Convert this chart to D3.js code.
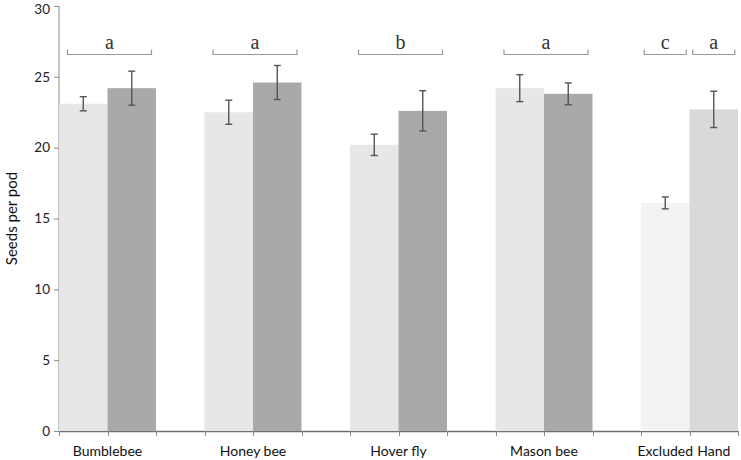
<!DOCTYPE html>
<html>
<head>
<meta charset="utf-8">
<script src="https://cdn.jsdelivr.net/npm/d3@7"></script>
<style>
  html, body { margin: 0; padding: 0; background: #fff; }
  svg { display: block; }
</style>
</head>
<body>
<svg id="chart" width="741" height="460"></svg>
<script>
// ---- data ----
const groups = ["Bumblebee", "Honey bee", "Hover fly", "Mason bee"];
const lightMeans = [23.1, 22.5, 20.2, 24.2];
const lightErr = [0.5, 0.85, 0.75, 0.95];
const darkMeans = [24.2, 24.6, 22.6, 23.8];
const darkErr = [1.2, 1.2, 1.42, 0.77];
const controls = ["Excluded", "Hand"];
const controlMeans = [16.1, 22.7];
const controlErr = [0.42, 1.28];
const groupLetters = ["a", "a", "b", "a"];
const controlLetters = ["c", "a"];
const yTicks = [0, 5, 10, 15, 20, 25, 30];
const yLabel = "Seeds per pod";

// ---- layout ----
const svg = d3.select("#chart");
const mLeft = 59, mRight = 738, mTop = 6, mBottom = 431;
const nSlots = 14;
const x = d3.scaleBand().domain(d3.range(nSlots)).range([mLeft, mRight]).paddingInner(0).paddingOuter(0);
const y = d3.scaleLinear().domain([0, 30]).range([mBottom, mTop]);
const bw = x.bandwidth();

// build bar records
const bars = [];
groups.forEach((g, i) => {
  bars.push({slot: 3 * i, v: lightMeans[i], e: lightErr[i], fill: "#e7e7e7"});
  bars.push({slot: 3 * i + 1, v: darkMeans[i], e: darkErr[i], fill: "#a9a9a9"});
});
const controlFills = ["#f3f3f3", "#d9d9d9"];
controls.forEach((c, j) => {
  bars.push({slot: 12 + j, v: controlMeans[j], e: controlErr[j], fill: controlFills[j]});
});

// axes
const axisColor = "#8a8a8a";
const yAxis = d3.axisLeft(y).tickValues(yTicks).tickSize(5).tickPadding(4);
const gy = svg.append("g").attr("transform", `translate(${mLeft},0)`).call(yAxis);
gy.select(".domain").attr("stroke", axisColor).attr("d", `M0,${mTop}V${mBottom}`);
gy.selectAll(".tick line").attr("stroke", axisColor);
gy.selectAll(".tick text").attr("fill", "#222").style("font-family", "Lato, 'Open Sans', sans-serif").style("font-size", "13.5px")
  .attr("y", d => d === 30 ? 3 : 0);

// x axis line + ticks at slot boundaries
const xg = svg.append("g");
xg.append("line").attr("x1", mLeft).attr("x2", mRight).attr("y1", mBottom + 0.5).attr("y2", mBottom + 0.5)
  .attr("stroke", "#6f6f6f").attr("stroke-width", 1.3);
const bounds = d3.range(nSlots + 1).map(i => i < nSlots ? x(i) : x(nSlots - 1) + bw);
xg.selectAll("line.tk").data(bounds).join("line").attr("class", "tk")
  .attr("x1", d => Math.round(d) + 0.5).attr("x2", d => Math.round(d) + 0.5)
  .attr("y1", mBottom).attr("y2", mBottom + 5).attr("stroke", axisColor);

// bars
svg.append("g").selectAll("rect").data(bars).join("rect")
  .attr("x", d => x(d.slot)).attr("width", bw)
  .attr("y", d => y(d.v)).attr("height", d => y(0) - y(d.v))
  .attr("fill", d => d.fill);

// error bars
const eg = svg.append("g").attr("stroke", "#555").attr("stroke-width", 1.4).attr("fill", "none");
bars.forEach(d => {
  const cx = x(d.slot) + bw / 2;
  eg.append("line").attr("x1", cx).attr("x2", cx).attr("y1", y(d.v + d.e)).attr("y2", y(d.v - d.e));
  eg.append("line").attr("x1", cx - 3.5).attr("x2", cx + 3.5).attr("y1", y(d.v + d.e)).attr("y2", y(d.v + d.e));
  eg.append("line").attr("x1", cx - 3.5).attr("x2", cx + 3.5).attr("y1", y(d.v - d.e)).attr("y2", y(d.v - d.e));
});

// x labels
const lab = svg.append("g").style("font-family", "Lato, 'Open Sans', sans-serif").style("font-size", "14px").attr("fill", "#111");
groups.forEach((g, i) => {
  lab.append("text").attr("x", x(3 * i) + bw).attr("y", 456).attr("text-anchor", "middle").text(g);
});
controls.forEach((c, j) => {
  lab.append("text").attr("x", x(12 + j) + bw / 2).attr("y", 456).attr("text-anchor", "middle").text(c);
});

// y label
svg.append("text").attr("transform", `translate(17,${(mTop + mBottom) / 2}) rotate(-90)`)
  .attr("text-anchor", "middle").style("font-family", "Lato, 'Open Sans', sans-serif").style("font-size", "15px")
  .attr("fill", "#111").text(yLabel);

// significance brackets
const brY = 54.5, brTick = 5;
const brG = svg.append("g");
function bracket(cx, half, letter) {
  brG.append("path").attr("d", `M${cx - half},${brY - brTick}V${brY}H${cx + half}V${brY - brTick}`)
    .attr("fill", "none").attr("stroke", "#999").attr("stroke-width", 1.2);
  brG.append("text").attr("x", cx).attr("y", brY - 6).attr("text-anchor", "middle")
    .style("font-family", "'Liberation Serif', 'DejaVu Serif', serif").style("font-size", "20px")
    .attr("fill", "#333").text(letter);
}
groups.forEach((g, i) => bracket(x(3 * i) + bw + 2, 42, groupLetters[i]));
controls.forEach((c, j) => bracket(x(12 + j) + bw / 2, 21, controlLetters[j]));
</script>
</body>
</html>
